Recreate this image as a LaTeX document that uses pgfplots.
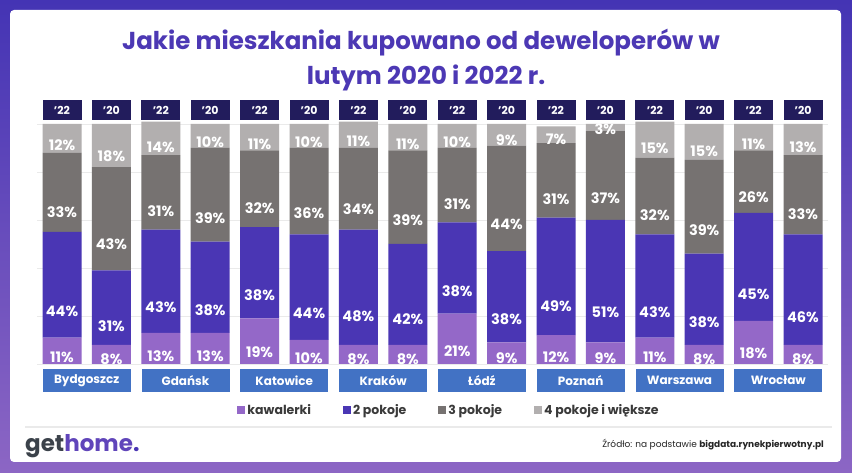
\documentclass[border=0pt]{standalone}
\usepackage{pgfplots}
\pgfplotsset{compat=1.18}
\usepackage{pgfplotstable}
\usepackage{fontspec}
\setmainfont{Poppins}

\definecolor{kaw}{HTML}{9468C8}
\definecolor{pok2}{HTML}{4A36B4}
\definecolor{pok3}{HTML}{767271}
\definecolor{pok4}{HTML}{B2AFAF}
\definecolor{navy}{HTML}{221C5C}
\definecolor{citybl}{HTML}{4272C4}
\definecolor{titlec}{HTML}{4C38B4}
\definecolor{gridc}{HTML}{EAEAEA}
\definecolor{legtxt}{HTML}{3A3A3A}
\definecolor{logogray}{HTML}{3B424A}
\definecolor{bgtop}{HTML}{4434B4}
\definecolor{bgbot}{HTML}{8C66C4}

\pgfplotstableread{
x kaw p2 p3 p4
0 11 44 33 12
1 8 31 43 18
2 13 43 31 14
3 13 38 39 10
4 19 38 32 11
5 10 44 36 10
6 8 48 34 11
7 8 42 39 11
8 21 38 31 10
9 9 38 44 9
10 12 49 31 7
11 9 51 37 3
12 11 43 32 15
13 8 38 39 15
14 18 45 26 11
15 8 46 33 13
}\data

\begin{document}
\begin{tikzpicture}[x=1pt,y=1pt]
\useasboundingbox (0,0) rectangle (852,473);
\shade[top color=bgtop, bottom color=bgbot] (0,0) rectangle (852,473);
\fill[white, rounded corners=4pt] (10,11) rectangle (841,463);
% title
\node[text=titlec, font=\bfseries\fontsize{24.5}{24.5}\selectfont, anchor=base] at (421,423) {Jakie mieszkania kupowano od deweloperów w};
\node[text=titlec, font=\bfseries\fontsize{24.5}{24.5}\selectfont, anchor=base] at (426,388) {lutym 2020 i 2022 r.};
\begin{axis}[
  at={(37.3pt,109pt)}, anchor=south west,
  scale only axis, width=790.4pt, height=242.4pt,
  xmin=-0.5, xmax=15.5, ymin=0, ymax=101,
  clip=false,
  ybar stacked, bar width=39pt,
  axis line style={draw=none},
  major tick length=0pt,
  ytick={0,20,...,100}, yticklabels={},
  ymajorgrids, grid style={draw=gridc, line width=0.8pt},
  xtick={0,...,15},
  xticklabels={'22,'20,'22,'20,'22,'20,'22,'20,'22,'20,'22,'20,'22,'20,'22,'20},
  xticklabel pos=upper,
  xticklabel style={fill=navy, text=white, minimum width=39pt, minimum height=20pt, inner sep=0pt, anchor=center, yshift=11.6pt, font=\bfseries\fontsize{11}{11}\selectfont},
  /pgf/number format/assume math mode=true,
  point meta=explicit,
  visualization depends on={rawy \as \segv},
  nodes near coords={\pgfmathprintnumber{\pgfplotspointmeta}\%},
  every node near coord/.append style={text=white, font=\bfseries\fontsize{14.5}{14.5}\selectfont, anchor=center, yshift={-0.6pt*\segv}},
  legend columns=4,
  legend style={draw=none, fill=none, inner sep=0pt, at={(axis description cs:0.253,-0.190)}, anchor=west,
    font=\bfseries\fontsize{12.5}{12.5}\selectfont, text=legtxt,
    /tikz/every even column/.append style={column sep=30pt}},
  legend image code/.code={\fill[#1] (0pt,-4pt) rectangle (8pt,4pt);},
]
\addplot[fill=kaw, draw=none] table[x=x, y=kaw, meta=kaw] {\data};
\addplot[fill=pok2, draw=none] table[x=x, y=p2, meta=p2] {\data};
\addplot[fill=pok3, draw=none] table[x=x, y=p3, meta=p3] {\data};
\addplot[fill=pok4, draw=none] table[x=x, y=p4, meta=p4] {\data};
\legend{kawalerki, 2 pokoje, 3 pokoje, 4 pokoje i większe}
\tikzset{citybox/.style={fill=citybl, text=white, minimum width=88pt, minimum height=23pt, inner sep=0pt, yshift=-16.5pt, font=\bfseries\fontsize{12}{12}\selectfont}}
\node[citybox] at (axis cs:0.5,0) {Bydgoszcz};
\node[citybox] at (axis cs:2.5,0) {Gdańsk};
\node[citybox] at (axis cs:4.5,0) {Katowice};
\node[citybox] at (axis cs:6.5,0) {Kraków};
\node[citybox] at (axis cs:8.5,0) {Łódź};
\node[citybox] at (axis cs:10.5,0) {Poznań};
\node[citybox] at (axis cs:12.5,0) {Warszawa};
\node[citybox] at (axis cs:14.5,0) {Wrocław};
\end{axis}
\draw[gridc, line width=1.5pt] (25,46) -- (832,46);
\node[anchor=base west, inner sep=0pt, font=\bfseries\fontsize{23}{23}\selectfont] at (25,21) {\textcolor{logogray}{get}\textcolor{pok2!70!kaw}{home}\textcolor{pok2}{.}};
\node[anchor=base east, inner sep=0pt, font=\fontsize{9}{9}\selectfont, text=black!85] at (824,25) {Źródło: na podstawie \textbf{bigdata.rynekpierwotny.pl}};
\end{tikzpicture}
\end{document}
